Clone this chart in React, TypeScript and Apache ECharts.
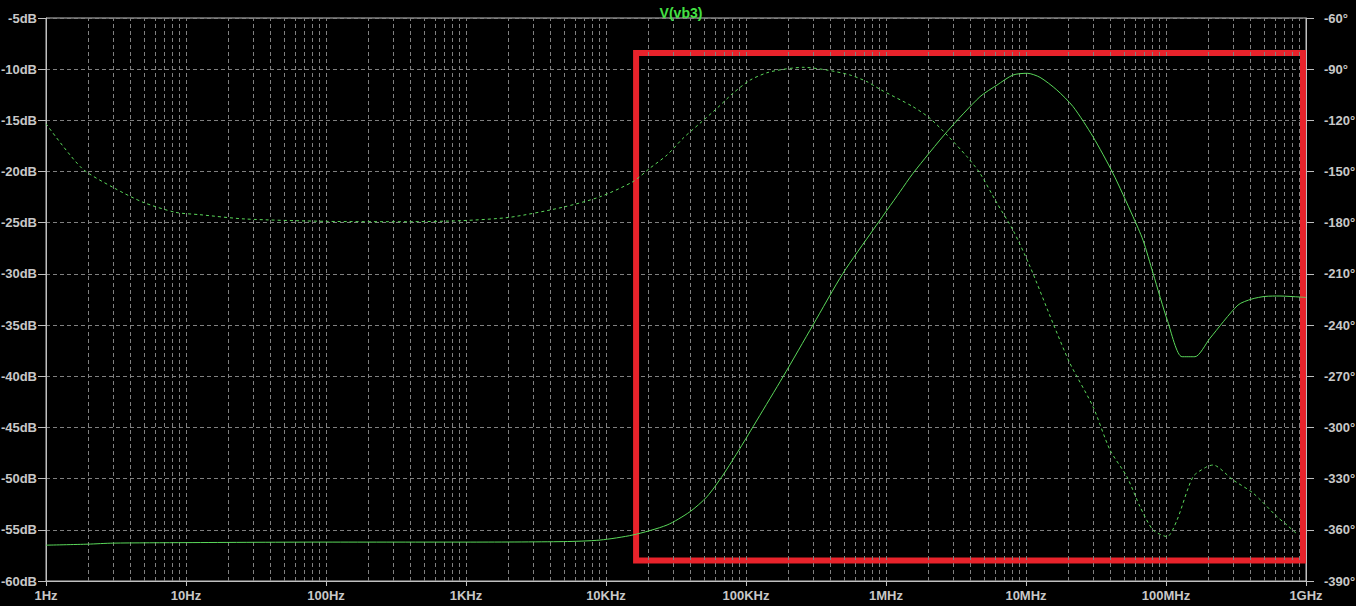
import React, { useEffect, useRef } from "react";
import * as echarts from "echarts";

// ---- Data ----
const FREQ_TICKS = [1, 10, 100, 1e3, 1e4, 1e5, 1e6, 1e7, 1e8, 1e9];
const FREQ_LABELS = ["1Hz", "10Hz", "100Hz", "1KHz", "10KHz", "100KHz", "1MHz", "10MHz", "100MHz", "1GHz"];

const magFreq = [
  1, 2, 3, 10, 100, 1000, 5000, 9060, 15600, 27300, 39800, 52600, 68500, 90600, 120000, 184000,
  301000, 493000, 808000, 1.26e6, 1.56e6, 2.73e6, 4.69e6, 6.21e6, 8.07e6, 1.02e7, 1.26e7, 1.66e7,
  2.17e7, 3.01e7, 4.18e7, 5.81e7, 6.85e7, 8.08e7, 1.03e8, 1.3e8, 1.61e8, 2.06e8, 3.27e8, 4.11e8,
  5.09e8, 6.52e8, 9.06e8, 1e9,
];
const magDb = [
  -56.5, -56.4, -56.3, -56.25, -56.2, -56.2, -56.15, -56.0, -55.5, -54.53, -53.23, -51.77, -49.65,
  -47.04, -44.27, -40.04, -34.99, -29.94, -25.71, -21.97, -20.17, -16.1, -12.69, -11.55, -10.57,
  -10.4, -10.8, -12.03, -13.66, -16.6, -20.17, -24.4, -26.7, -29.94, -34.67, -38.09, -38.09, -36.29,
  -33.04, -32.45, -32.2, -32.16, -32.26, -32.3,
];

const phaseFreq = [
  1, 1.8, 3.06, 4.93, 8.4, 12.6, 26.4, 101, 385, 921, 2060, 4930, 9060, 15600, 20600, 27300, 35500,
  46900, 62100, 80700, 107000, 141000, 184000, 255000, 379000, 553000, 731000, 906000, 1.56e6,
  2.06e6, 2.73e6, 3.79e6, 4.69e6, 6.21e6, 8.07e6, 1.07e7, 1.56e7, 2.06e7, 3.01e7, 3.98e7, 5.26e7,
  6.52e7, 8.08e7, 1.02e8, 1.2e8, 1.56e8, 1.96e8, 2.17e8, 3.01e8, 4.18e8, 6.21e8, 7.31e8, 8.77e8,
];
const phaseDeg = [
  -122, -148, -159.6, -168, -173.9, -175.3, -177.8, -179.2, -179.4, -178.8, -176.8, -170.9, -164.8,
  -155.9, -148, -140.3, -130.5, -121.7, -112.9, -104.1, -96.4, -92.1, -90.1, -88.9, -90.5, -93.4,
  -97.3, -101.8, -112, -118.8, -128.6, -141.3, -151, -168.6, -184.3, -205.8, -239, -262.4, -287.8,
  -313.2, -328.9, -346.4, -360.1, -364, -354.2, -328.9, -323, -322, -330.8, -338.4, -352.3, -357.2,
  -363,
];

const DB_MIN = -60, DB_MAX = -5, DB_STEP = 5;
const DEG_MIN = -390, DEG_MAX = -60, DEG_STEP = 30;

// Highlight box corners (data coordinates)
const boxFreq = [16400, 9.52e8];
const boxDb = [-8.42, -58.0];

const TITLE = "V(vb3)";

export default function App() {
  const ref = useRef<HTMLDivElement>(null);
  useEffect(() => {
    document.body.style.margin = "0";
    document.body.style.background = "#000";
    const chart = echarts.init(ref.current!, null, { renderer: "svg" });

    const minorGrid: number[] = [];
    for (let i = 0; i < FREQ_TICKS.length - 1; i++) {
      for (let m = 1; m <= 9; m++) {
        const v = FREQ_TICKS[i] * m;
        if (v > 1) minorGrid.push(v);
      }
    }

    const gridColor = "#808080";
    const axisColor = "#c0c0c0";
    const labelColor = "#c8c8c8";
    const traceColor = "#5ad85a";
    const font = { fontFamily: "Liberation Sans", fontWeight: "bold" as const, fontSize: 13 };

    chart.setOption({
      animation: false,
      backgroundColor: "#000",
      title: {
        text: TITLE,
        left: 676,
        top: 1,
        textAlign: "center",
        textStyle: { color: "#44e044", fontFamily: "Liberation Sans", fontWeight: "bold", fontSize: 14 },
      },
      grid: {
        left: 46,
        top: 18,
        width: 1260,
        height: 563,
        show: true,
        borderColor: axisColor,
        borderWidth: 1,
        backgroundColor: "#000",
        containLabel: false,
        outerBoundsMode: "none",
      },
      xAxis: {
        type: "log",
        logBase: 10,
        min: 1,
        max: 1e9,
        splitNumber: 9,
        axisLine: { show: true, lineStyle: { color: axisColor } },
        axisTick: { show: true, inside: false, length: 5, lineStyle: { color: axisColor } },
        splitLine: { show: false },
        axisLabel: {
          color: labelColor,
          margin: 8,
          ...font,
          formatter: (v: number) => {
            const idx = Math.round(Math.log10(v));
            return FREQ_LABELS[idx] ?? "";
          },
        },
      },
      yAxis: [
        {
          type: "value",
          min: DB_MIN,
          max: DB_MAX,
          interval: DB_STEP,
          position: "left",
          axisLine: { show: true, lineStyle: { color: axisColor } },
          axisTick: { show: true, length: 8, lineStyle: { color: axisColor } },
          splitLine: { show: true, lineStyle: { color: gridColor, type: [4, 3], width: 1 } },
          axisLabel: { color: labelColor, margin: 9, ...font, formatter: (v: number) => `${v}dB` },
        },
        {
          type: "value",
          min: DEG_MIN,
          max: DEG_MAX,
          interval: DEG_STEP,
          position: "right",
          axisLine: { show: true, lineStyle: { color: axisColor } },
          axisTick: { show: true, length: 8, lineStyle: { color: axisColor } },
          splitLine: { show: false },
          axisLabel: { color: labelColor, margin: 18, ...font, formatter: (v: number) => `${v}°` },
        },
      ],
      series: [
        {
          name: "grid",
          type: "line",
          data: [],
          silent: true,
          markLine: {
            silent: true,
            symbol: "none",
            label: { show: false },
            lineStyle: { color: gridColor, type: [4, 3], width: 1 },
            data: minorGrid.map((v) => ({ xAxis: v })),
            z: 1,
          },
        },
        {
          name: "magnitude",
          type: "line",
          yAxisIndex: 0,
          showSymbol: false,
          symbol: "none",
          smooth: 0.25,
          lineStyle: { color: traceColor, width: 1 },
          data: magFreq.map((f, i) => [f, magDb[i]]),
          z: 3,
          markArea: {
            silent: true,
            itemStyle: { color: "rgba(0,0,0,0)", borderColor: "#e8232b", borderWidth: 6 },
            data: [[{ xAxis: boxFreq[0], yAxis: boxDb[0] }, { xAxis: boxFreq[1], yAxis: boxDb[1] }]],
          },
        },
        {
          name: "phase",
          type: "line",
          yAxisIndex: 1,
          showSymbol: false,
          symbol: "none",
          smooth: 0.25,
          lineStyle: { color: traceColor, width: 1, type: [3, 3] },
          data: phaseFreq.map((f, i) => [f, phaseDeg[i]]),
          z: 3,
        },
      ],
    });
    return () => chart.dispose();
  }, []);
  return <div ref={ref} style={{ width: 1356, height: 606, background: "#000" }} />;
}
